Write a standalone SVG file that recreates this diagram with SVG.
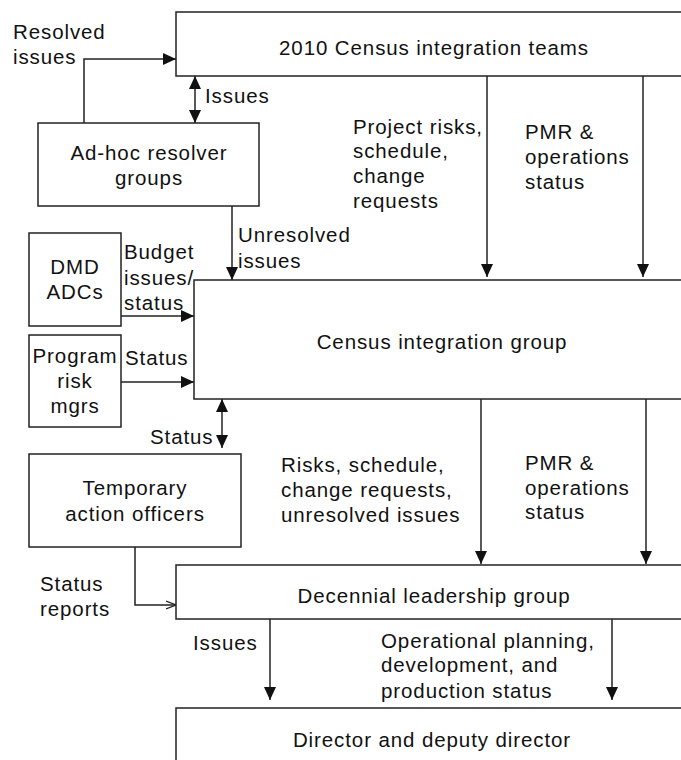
<svg xmlns="http://www.w3.org/2000/svg" width="681" height="760" viewBox="0 0 681 760">
<defs>
<marker id="ah" viewBox="0 0 13 12" refX="13" refY="6" markerWidth="13" markerHeight="12" orient="auto-start-reverse" markerUnits="userSpaceOnUse"><path d="M0,0 L13,6 L0,12 z" fill="#111"/></marker>
<marker id="open" viewBox="0 0 10 10" refX="10" refY="5" markerWidth="10" markerHeight="10" orient="auto" markerUnits="userSpaceOnUse"><path d="M0,1 L10,5 L0,9" fill="none" stroke="#222" stroke-width="1.3"/></marker>
</defs>
<style>
.box{fill:#fff;stroke:#222;stroke-width:1.5}
.t{font-family:"Liberation Sans",Arial,sans-serif;font-size:20.5px;letter-spacing:0.9px;fill:#111}
.c{text-anchor:middle}
.ln{fill:none;stroke:#222;stroke-width:1.5}
</style>
<rect width="681" height="760" fill="#fff"/>
<g id="connectors">
<path class="ln" d="M84,123 V59 H176" marker-end="url(#ah)"/>
<path class="ln" d="M195,76 V123" marker-start="url(#ah)" marker-end="url(#ah)"/>
<path class="ln" d="M232,206 V280" marker-end="url(#ah)"/>
<path class="ln" d="M121,316 H194" marker-end="url(#ah)"/>
<path class="ln" d="M121,382 H194" marker-end="url(#ah)"/>
<path class="ln" d="M222,399 V448" marker-start="url(#ah)" marker-end="url(#ah)"/>
<path class="ln" d="M487,76 V277" marker-end="url(#ah)"/>
<path class="ln" d="M643,76 V277" marker-end="url(#ah)"/>
<path class="ln" d="M481,399 V564" marker-end="url(#ah)"/>
<path class="ln" d="M646,399 V564" marker-end="url(#ah)"/>
<path class="ln" d="M135,547 V605 H176" marker-end="url(#open)"/>
<path class="ln" d="M270,619 V700" marker-end="url(#ah)"/>
<path class="ln" d="M612,619 V700" marker-end="url(#ah)"/>
<text class="t" x="13" y="39">Resolved</text>
<text class="t" x="13" y="64">issues</text>
<text class="t" x="205" y="103">Issues</text>
<text class="t" x="238" y="242">Unresolved</text>
<text class="t" x="238" y="268">issues</text>
<text class="t" x="124" y="259">Budget</text>
<text class="t" x="124" y="285">issues/</text>
<text class="t" x="124" y="310">status</text>
<text class="t" x="125" y="365">Status</text>
<text class="t" x="150" y="444">Status</text>
<text class="t" x="353" y="134">Project risks,</text>
<text class="t" x="353" y="158">schedule,</text>
<text class="t" x="353" y="183">change</text>
<text class="t" x="353" y="208">requests</text>
<text class="t" x="525" y="139">PMR &amp;</text>
<text class="t" x="525" y="164">operations</text>
<text class="t" x="525" y="189">status</text>
<text class="t" x="281" y="472">Risks, schedule,</text>
<text class="t" x="281" y="497">change requests,</text>
<text class="t" x="281" y="522">unresolved issues</text>
<text class="t" x="525" y="470">PMR &amp;</text>
<text class="t" x="525" y="495">operations</text>
<text class="t" x="525" y="519">status</text>
<text class="t" x="40" y="591">Status</text>
<text class="t" x="40" y="616">reports</text>
<text class="t" x="193" y="650">Issues</text>
<text class="t" x="381" y="648">Operational planning,</text>
<text class="t" x="381" y="672">development, and</text>
<text class="t" x="381" y="698">production status</text>
</g>
<g id="census-teams"><rect class="box" x="176" y="12" width="520" height="64"/><text class="t c" x="434" y="55">2010 Census integration teams</text></g>
<g id="adhoc"><rect class="box" x="38" y="123" width="221" height="83"/><text class="t c" x="149" y="160">Ad-hoc resolver</text><text class="t c" x="149" y="185">groups</text></g>
<g id="dmd"><rect class="box" x="29" y="233" width="92" height="93"/><text class="t c" x="75" y="274">DMD</text><text class="t c" x="75" y="299">ADCs</text></g>
<g id="program"><rect class="box" x="29" y="335" width="92" height="92"/><text class="t c" x="75" y="363">Program</text><text class="t c" x="75" y="388">risk</text><text class="t c" x="75" y="413">mgrs</text></g>
<g id="census-group"><rect class="box" x="194" y="280" width="500" height="119"/><text class="t c" x="442" y="349">Census integration group</text></g>
<g id="tao"><rect class="box" x="29" y="454" width="212" height="93"/><text class="t c" x="135" y="495">Temporary</text><text class="t c" x="135" y="521">action officers</text></g>
<g id="dlg"><rect class="box" x="176" y="565" width="520" height="54"/><text class="t c" x="434" y="603">Decennial leadership group</text></g>
<g id="director"><rect class="box" x="176" y="708" width="520" height="70"/><text class="t c" x="432" y="747">Director and deputy director</text></g>
</svg>
